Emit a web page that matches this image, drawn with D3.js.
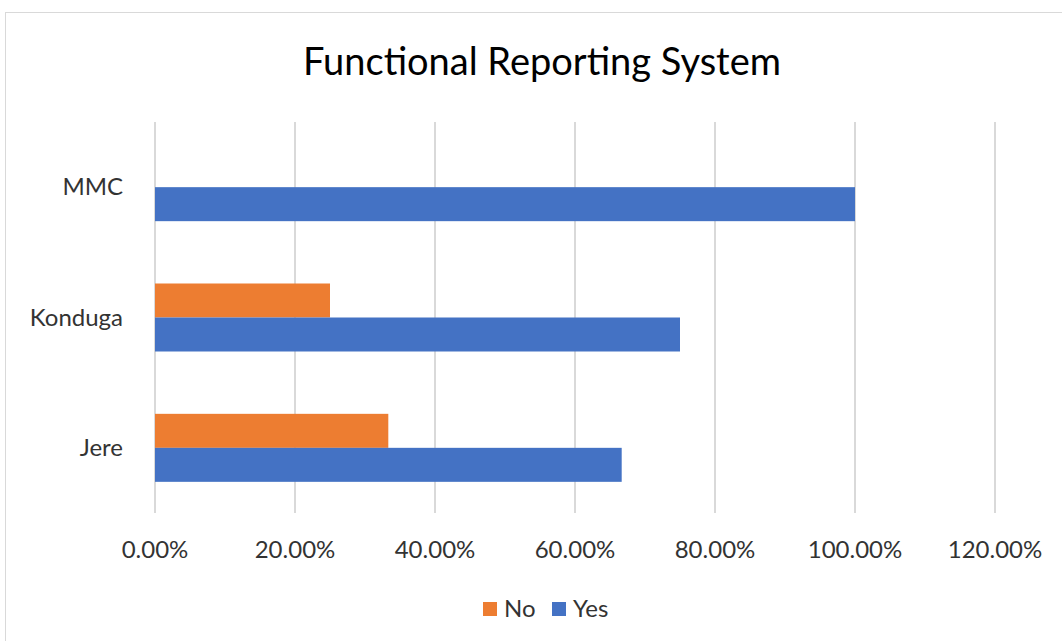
<!DOCTYPE html>
<html>
<head>
<meta charset="utf-8">
<script src="https://cdn.jsdelivr.net/npm/d3@7"></script>
<style>
  body { margin: 0; background: #fff; }
  text { font-family: Lato, "Open Sans", sans-serif; fill: #333; }
</style>
</head>
<body>
<svg width="1062" height="641"></svg>
<script>
var categories = ["MMC", "Konduga", "Jere"];
var seriesNames = ["No", "Yes"];
var noValues = [0, 0.25, 0.3333];
var yesValues = [1.0, 0.75, 0.6667];
var tickValues = [0, 0.2, 0.4, 0.6, 0.8, 1.0, 1.2];
var colors = { "No": "#ed7d31", "Yes": "#4472c4" };

var svg = d3.select("svg");

// chart border
svg.append("rect")
   .attr("x", 5.5).attr("y", 12.5)
   .attr("width", 1070).attr("height", 640)
   .attr("fill", "#fff")
   .attr("stroke", "#d9d9d9");

var plotLeft = 155, plotRight = 995, plotTop = 122, plotBottom = 513;

var x = d3.scaleLinear().domain([0, 1.2]).range([plotLeft, plotRight]);
var y0 = d3.scaleBand().domain(categories).range([plotTop, plotBottom]);
var y1 = d3.scaleBand().domain(seriesNames).range([0, 68]);

svg.append("text")
   .attr("x", 542).attr("y", 75)
   .attr("text-anchor", "middle")
   .style("font-size", "38px")
   .style("fill", "#000")
   .text("Functional Reporting System");

// gridlines
svg.append("g")
   .selectAll("line")
   .data(tickValues)
   .enter().append("line")
   .attr("x1", function(d) { return x(d); })
   .attr("x2", function(d) { return x(d); })
   .attr("y1", plotTop).attr("y2", plotBottom)
   .attr("stroke", "#d9d9d9")
   .attr("stroke-width", 2);

var rows = categories.map(function(c, i) {
  return { cat: c, values: [
    { name: "No", value: noValues[i] },
    { name: "Yes", value: yesValues[i] }
  ]};
});

var groups = svg.append("g")
   .selectAll("g")
   .data(rows)
   .enter().append("g")
   .attr("transform", function(d) {
     return "translate(0," + (y0(d.cat) + y0.bandwidth() / 2 - 34) + ")";
   });

groups.selectAll("rect")
   .data(function(d) { return d.values.filter(function(v) { return v.value > 0; }); })
   .enter().append("rect")
   .attr("x", x(0))
   .attr("y", function(d) { return y1(d.name); })
   .attr("width", function(d) { return x(d.value) - x(0); })
   .attr("height", y1.bandwidth())
   .attr("fill", function(d) { return colors[d.name]; });

// category labels
svg.append("g")
   .selectAll("text")
   .data(categories)
   .enter().append("text")
   .attr("x", 123)
   .attr("y", function(d) { return y0(d) + y0.bandwidth() / 2 + 8; })
   .attr("text-anchor", "end")
   .style("font-size", "24px")
   .text(function(d) { return d; });

// x tick labels
svg.append("g")
   .selectAll("text")
   .data(tickValues)
   .enter().append("text")
   .attr("x", function(d) { return x(d); })
   .attr("y", 558)
   .attr("text-anchor", "middle")
   .style("font-size", "24px")
   .text(function(d) { return d3.format(".2%")(d); });

// legend
var legendX = { "No": 483, "Yes": 552 };
var legend = svg.append("g")
   .selectAll("g")
   .data(seriesNames)
   .enter().append("g")
   .attr("transform", function(d) { return "translate(" + legendX[d] + ",602)"; });

legend.append("rect")
   .attr("width", 14).attr("height", 14)
   .attr("fill", function(d) { return colors[d]; });

legend.append("text")
   .attr("x", 21).attr("y", 15)
   .style("font-size", "24px")
   .text(function(d) { return d; });
</script>
</body>
</html>
